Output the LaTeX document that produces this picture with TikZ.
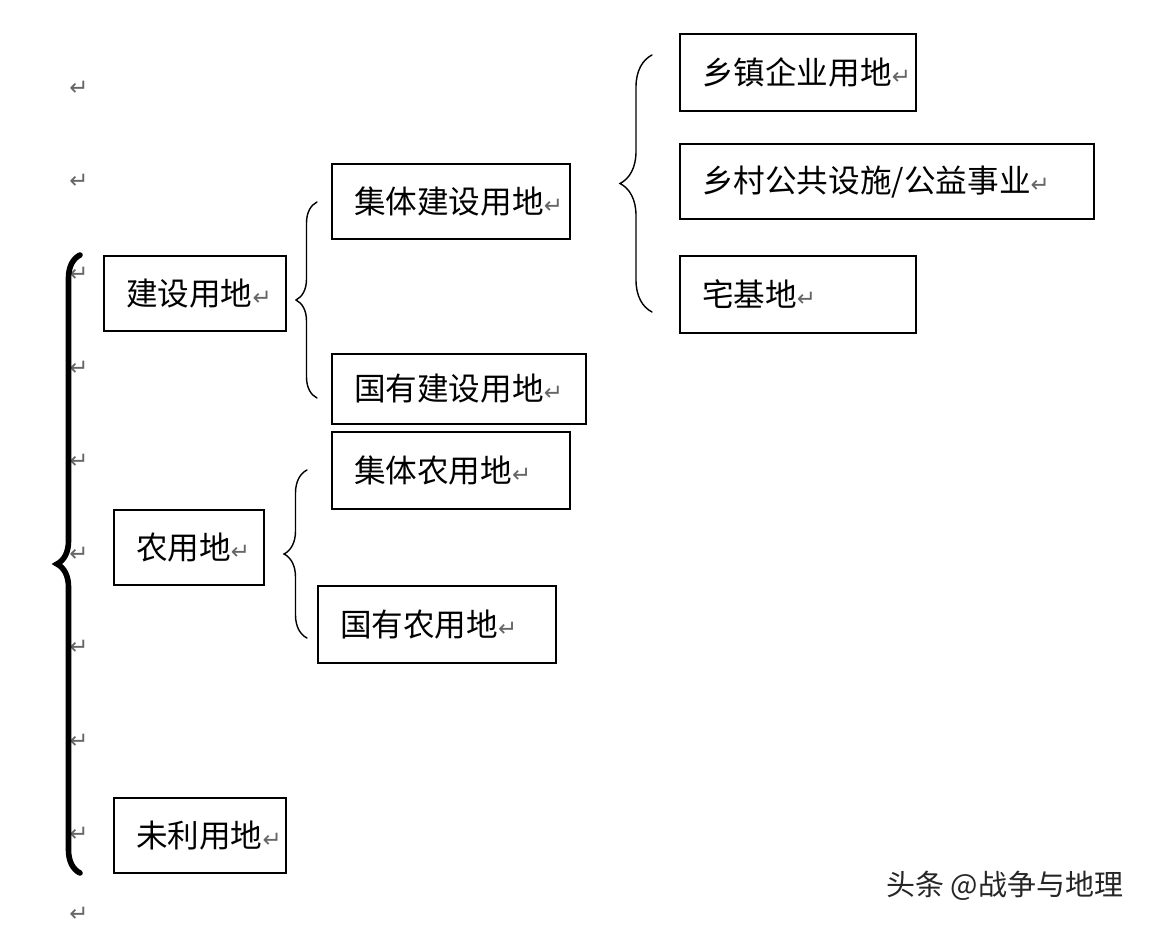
\documentclass[tikz,border=0pt]{standalone}
\usepackage{fontspec}
\setmainfont{Noto Sans CJK SC}
\newfontfamily\arrowfont{DejaVu Sans}
\usepackage{tikz}
\usetikzlibrary{decorations.pathreplacing}

\newcommand{\ret}{{\arrowfont\fontsize{13}{13}\selectfont\color{black!60}↵}}

\begin{document}
\begin{tikzpicture}[x=0.02cm, y=-0.02cm,
    box/.style={draw, line width=1.2pt, anchor=north west, inner xsep=0.44cm, inner ysep=0pt,
                align=left, font=\fontsize{18}{21}\selectfont},
    bigbrace/.style={decorate, decoration={brace, amplitude=#1}, line width=3.2pt, line cap=round},
    smallbrace/.style={decorate, decoration={brace, amplitude=#1}, line width=0.8pt, line cap=round}]
    % Page
    \fill[white] (0,0) rectangle (1154,930);
    % Paragraph marks
    \foreach \i in {0,...,8}
        \node[inner sep=0pt] (ret\i) at (79, {88+93.3*\i}) {\ret};
    \node[inner sep=0pt] (ret9) at (79,914) {\ret};
    % First level
    \node[box, text width=2.76cm, minimum height=1.5cm] (jsyd) at (103,255) {建设用地\ret};
    \node[box, text width=2.12cm, minimum height=1.5cm] (nyd) at (113,509) {农用地\ret};
    \node[box, text width=2.56cm, minimum height=1.5cm] (wlyd) at (113,797) {未利用地\ret};
    % Second level
    \node[box, text width=3.88cm, minimum height=1.5cm] (jtjs) at (331,163) {集体建设用地\ret};
    \node[box, text width=4.20cm, minimum height=1.4cm] (gyjs) at (331,353) {国有建设用地\ret};
    \node[box, text width=3.88cm, minimum height=1.54cm] (jtny) at (331,431) {集体农用地\ret};
    \node[box, text width=3.88cm, minimum height=1.54cm] (gyny) at (317,585) {国有农用地\ret};
    % Third level
    \node[box, text width=3.84cm, minimum height=1.54cm] (xzqy) at (679,33) {乡镇企业用地\ret};
    \node[box, text width=7.40cm, minimum height=1.5cm] (xcgg) at (679,143) {乡村公共设施/公益事业\ret};
    \node[box, text width=3.84cm, minimum height=1.54cm] (zjd) at (679,255) {宅基地\ret};
    % Braces
    \coordinate (allbot) at (80,873);
    \coordinate (alltop) at (80,255);
    \coordinate (jsbot) at (317,398);
    \coordinate (jstop) at (317,202);
    \coordinate (nybot) at (307,638);
    \coordinate (nytop) at (307,470);
    \coordinate (jtbot) at (652,312);
    \coordinate (jttop) at (652,55);
    \draw[bigbrace=0.46cm] (allbot) -- (alltop);
    \draw[smallbrace=0.42cm] (jsbot) -- (jstop);
    \draw[smallbrace=0.46cm] (nybot) -- (nytop);
    \draw[smallbrace=0.64cm] (jtbot) -- (jttop);
    % Watermark
    \node[anchor=west, inner sep=0pt, text=black!85, font=\fontsize{16.5}{18}\selectfont] (mark) at (886,886) {头条 @战争与地理};
\end{tikzpicture}
\end{document}
